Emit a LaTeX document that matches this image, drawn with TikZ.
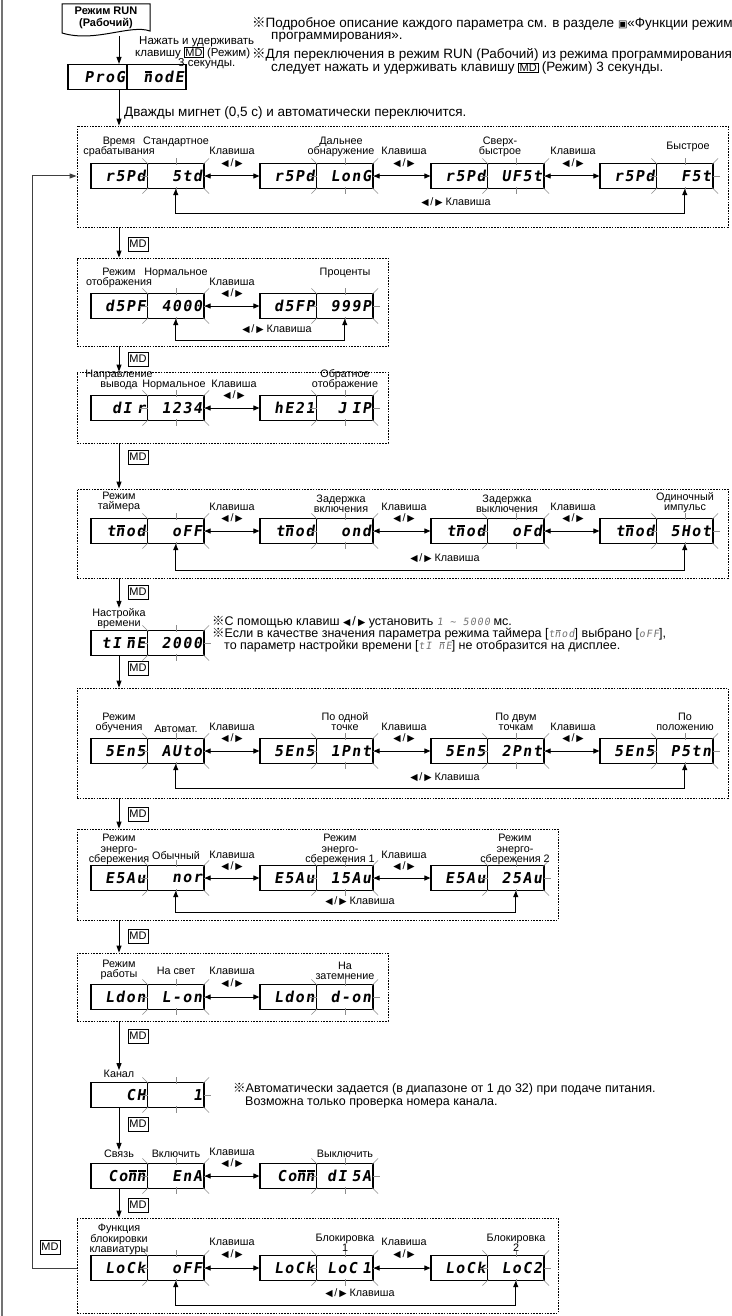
\documentclass[tikz,border=0pt]{standalone}
\usepackage{fontspec}
\setmainfont{Liberation Sans}
\newfontfamily\segfont{DejaVu Sans Mono}[FakeSlant=0.15,LetterSpace=10]
\newfontfamily\symfont{DejaVu Sans}
\newfontfamily\refmark{Noto Sans CJK JP}
\usetikzlibrary{arrows.meta}
\setlength\fboxsep{0.8pt}
\setlength\fboxrule{0.5pt}
\newcommand\segstyle{\segfont\bfseries\fontsize{15}{15}\selectfont}
\newcommand\labstyle{\fontsize{10.8}{10.5}\selectfont}
\newcommand\txtstyle{\fontsize{13.5}{14}\selectfont}
\newcommand\notestyle{\fontsize{12.5}{13}\selectfont}
\newcommand\holdstyle{\fontsize{11.5}{12}\selectfont}
\newcommand\mdstyle{\fontsize{11}{11}\selectfont}
\newcommand\kk{{\symfont\fontsize{9.5}{9.5}\selectfont ◀}\,/\,{\symfont\fontsize{9.5}{9.5}\selectfont ▶}}
\newcommand\refm{{\refmark ※}}
\newcommand\mdin{\fbox{\fontsize{11}{11}\selectfont MD}}
\newcommand\nbar{\makebox[0pt][l]{\hspace{0.1em}\raisebox{0.64em}{\rule{0.5em}{0.1em}}}n}
\newcommand\segin[1]{{\segfont\fontsize{10}{10}\selectfont\color{black!55}#1}}
\tikzset{
 cellL/.style={draw, line width=1.2pt, minimum width=56.5pt, minimum height=25pt, inner sep=0pt, text width=53pt, align=right, font=\segstyle},
 cellR/.style={cellL},
 cellP/.style={cellL, minimum width=59pt, text width=55pt},
 tick/.style={black!45, line width=0.5pt},
 grp/.style={draw, line width=0.8pt, dash pattern=on 1.6pt off 1.2pt, inner sep=0pt},
 lab/.style={font=\labstyle, align=center, inner sep=0pt},
 dbl/.style={line width=1pt, {Triangle[length=6pt,width=5pt]}-{Triangle[length=6pt,width=5pt]}},
 arr/.style={line width=1pt, -{Triangle[length=7pt,width=5pt]}},
 md/.style={draw, line width=0.6pt, font=\mdstyle, inner sep=1.5pt, minimum width=20pt, minimum height=14pt},
 txt/.style={font=\txtstyle, inner sep=0pt},
 note/.style={font=\notestyle, inner sep=0pt},
 hold/.style={font=\holdstyle, inner sep=0pt},
 back/.style={line width=1pt, draw=black!75, -{Triangle[length=7pt,width=5pt]}},
}
\newcommand\blinkticks[1]{%
 \draw[tick] ([shift={(1.5,1.5)}]#1.north west) -- ++(-6,-6);
 \draw[tick] ([shift={(-1.5,1.5)}]#1.north east) -- ++(6,-6);
 \draw[tick] ([shift={(1.5,-1.5)}]#1.south west) -- ++(-6,6);
 \draw[tick] ([shift={(-1.5,-1.5)}]#1.south east) -- ++(6,6);
 \draw[tick] ([shift={(0,2)}]#1.north) -- ++(0,-7);
 \draw[tick] ([shift={(0,-2)}]#1.south) -- ++(0,7);
 \draw[tick] ([shift={(-7,0)}]#1.west) -- ++(8,0);
 \draw[tick] ([shift={(-1,0)}]#1.east) -- ++(7,0);
}
\newcommand\dpair[5]{%
 \node[cellL] (#1-l) at ({#2+28.25},{#3}) {#4};
 \node[cellR] (#1-r) at ({#2+84.75},{#3}) {#5};
 \blinkticks{#1-r}}
\begin{document}
\begin{tikzpicture}[x=1pt,y=-1pt]
\useasboundingbox (0,0) rectangle (731,1316);
\fill[white] (0,0) rectangle (731,1316);
\draw[line width=2pt, black!55] (2,0) -- (2,1316);
\coordinate (ax) at (119,0);
\coordinate (bx) at (32,0);

% ---------- header ----------
\draw[line width=1pt, fill=white] (62,4) -- (150,4) -- (150,31) .. controls (130,24) and (95,43) .. (62,33) -- cycle;
\node[font=\bfseries\fontsize{11}{12}\selectfont, align=center, inner sep=0pt] (run) at (106,18) {Режим RUN\\(Рабочий)};
\coordinate (runb) at (119,36);
\node[hold, anchor=west] (hold1) at (139,42) {Нажать и удерживать};
\node[hold, anchor=west] (hold2) at (135,53) {клавишу \mdin\ (Режим)};
\node[hold, anchor=west] (hold3) at (178,64) {3 секунды.};
\node[cellP] (pg-l) at (97.5,77) {ProG};
\node[cellP] (pg-r) at (156.5,77) {\nbar odE};
\draw[arr] (runb) -- (pg-l.north -| ax);
\node[txt, anchor=west] (n1) at (252,24) {\refm Подробное описание каждого параметра см. в разделе {\symfont\fontsize{10}{10}\selectfont▣}«Функции режим};
\node[txt, anchor=west] (n2) at (271,37) {программирования».};
\node[txt, anchor=west] (n3) at (252,55) {\refm Для переключения в режим RUN (Рабочий) из режима программирования};
\node[txt, anchor=west] (n4) at (271,68) {следует нажать и удерживать клавишу \mdin\ (Режим) 3 секунды.};
\node[txt, anchor=west] (twice) at (124,113) {Дважды мигнет (0,5 с) и автоматически переключится.};

% ---------- group 1 ----------
\node[grp, minimum width=651pt, minimum height=101pt] (g1) at (402.5,176.5) {};
\draw[arr] (pg-l.south -| ax) -- (g1.north -| ax);
\dpair{a1}{91}{176}{r5Pd}{5td}
\dpair{a2}{260}{176}{r5Pd}{LonG}
\dpair{a3}{431}{176}{r5Pd}{UF5t}
\dpair{a4}{600}{176}{r5Pd}{F5t}
\draw[dbl] (a1-r.east) -- (a2-l.west);
\draw[dbl] (a2-r.east) -- (a3-l.west);
\draw[dbl] (a3-r.east) -- (a4-l.west);
\draw[dbl] (a1-r.south) -- ++(0,24) -| (a4-r.south);
\node[lab, anchor=south] (a1t) at (119,157) {Время\\срабатывания};
\node[lab, anchor=south] (a1v) at (176,147) {Стандартное};
\node[lab, anchor=south] (a2v) at (341,157) {Дальнее\\обнаружение};
\node[lab, anchor=south] (a3v) at (500,157) {Сверх-\\быстрое};
\node[lab, anchor=south] (a4v) at (688,152) {Быстрое};
\node[lab] (ak1) at (232,151) {Клавиша};
\node[lab] (as1) at (232,163) {\kk};
\node[lab] (ak2) at (404,151) {Клавиша};
\node[lab] (as2) at (404,163) {\kk};
\node[lab] (ak3) at (573,151) {Клавиша};
\node[lab] (as3) at (573,163) {\kk};
\node[lab] (ab) at (456,202) {\kk\ Клавиша};

% ---------- group 2 ----------
\node[grp, minimum width=311pt, minimum height=88pt] (g2) at (232.5,302) {};
\draw[arr] (g1.south -| ax) -- (g2.north -| ax);
\node[md] (m1) at (138,244) {MD};
\dpair{b1}{91}{306}{d5PF}{4000}
\dpair{b2}{260}{306}{d5FP}{999P}
\draw[dbl] (b1-r.east) -- (b2-l.west);
\draw[dbl] (b1-r.south) -- ++(0,21) -| (b2-r.south);
\node[lab, anchor=south] (b1t) at (119,288) {Режим\\отображения};
\node[lab, anchor=south] (b1v) at (176,278) {Нормальное};
\node[lab, anchor=south] (b2v) at (345,278) {Проценты};
\node[lab] (bk1) at (232,282) {Клавиша};
\node[lab] (bs1) at (232,293) {\kk};
\node[lab] (bb) at (277,329) {\kk\ Клавиша};

% ---------- group 3 ----------
\node[grp, minimum width=311pt, minimum height=71pt] (g3) at (232.5,407.5) {};
\draw[arr] (g2.south -| ax) -- (g3.north -| ax);
\node[md] (m2) at (138,359) {MD};
\dpair{c1}{91}{408}{dI r}{1234}
\dpair{c2}{260}{408}{hE21}{J IP}
\draw[dbl] (c1-r.east) -- (c2-l.west);
\node[lab, anchor=south] (c1t) at (119,390) {Направление\\вывода};
\node[lab, anchor=south] (c1v) at (174,390) {Нормальное};
\node[lab, anchor=south] (c2v) at (345,390) {Обратное\\отображение};
\node[lab] (ck1) at (234,384) {Клавиша};
\node[lab] (cs1) at (234,395) {\kk};

% ---------- group 4 ----------
\node[grp, minimum width=651pt, minimum height=89pt] (g4) at (402.5,533.5) {};
\draw[arr] (g3.south -| ax) -- (g4.north -| ax);
\node[md] (m3) at (138,457) {MD};
\dpair{d1}{91}{531}{t\nbar od}{oFF}
\dpair{d2}{260}{531}{t\nbar od}{ond}
\dpair{d3}{431}{531}{t\nbar od}{oFd}
\dpair{d4}{600}{531}{t\nbar od}{5Hot}
\draw[dbl] (d1-r.east) -- (d2-l.west);
\draw[dbl] (d2-r.east) -- (d3-l.west);
\draw[dbl] (d3-r.east) -- (d4-l.west);
\draw[dbl] (d1-r.south) -- ++(0,26) -| (d4-r.south);
\node[lab, anchor=south] (d1t) at (119,512) {Режим\\таймера};
\node[lab, anchor=south] (d2v) at (341,513) {Задержка\\включения};
\node[lab, anchor=south] (d3v) at (507,513) {Задержка\\выключения};
\node[lab, anchor=south] (d4v) at (685,513) {Одиночный\\импульс};
\node[lab] (dk1) at (232,507) {Клавиша};
\node[lab] (ds1) at (232,518) {\kk};
\node[lab] (dk2) at (404,507) {Клавиша};
\node[lab] (ds2) at (404,518) {\kk};
\node[lab] (dk3) at (573,507) {Клавиша};
\node[lab] (ds3) at (573,518) {\kk};
\node[lab] (db) at (445,558) {\kk\ Клавиша};

% ---------- time ----------
\node[lab, anchor=south] (e1t) at (119,629) {Настройка\\времени};
\draw[arr] (g4.south -| ax) -- (e1t.north -| ax);
\node[md] (m4) at (138,592) {MD};
\dpair{e1}{91}{643}{tI \nbar E}{2000}
\node[note, anchor=west] (en1) at (212,622) {\refm С помощью клавиш \kk\ установить \segin{1 \char`~\ 5000} мс.};
\node[note, anchor=west] (en2) at (212,634) {\refm Если в качестве значения параметра режима таймера [\segin{t\nbar od}] выбрано [\segin{oFF}],};
\node[note, anchor=west] (en3) at (224,646) {то параметр настройки времени [\segin{tI \nbar E}] не отобразится на дисплее.};

% ---------- group 5 ----------
\node[grp, minimum width=651pt, minimum height=110pt] (g5) at (402.5,743) {};
\draw[arr] (e1-l.south -| ax) -- (g5.north -| ax);
\node[md] (m5) at (138,668) {MD};
\dpair{f1}{91}{751}{5En5}{AUto}
\dpair{f2}{260}{751}{5En5}{1Pnt}
\dpair{f3}{431}{751}{5En5}{2Pnt}
\dpair{f4}{600}{751}{5En5}{P5tn}
\draw[dbl] (f1-r.east) -- (f2-l.west);
\draw[dbl] (f2-r.east) -- (f3-l.west);
\draw[dbl] (f3-r.east) -- (f4-l.west);
\draw[dbl] (f1-r.south) -- ++(0,24) -| (f4-r.south);
\node[lab, anchor=south] (f1t) at (119,733) {Режим\\обучения};
\node[lab, anchor=south] (f1v) at (176,733) {Автомат.};
\node[lab, anchor=south] (f2v) at (345,731) {По одной\\точке};
\node[lab, anchor=south] (f3v) at (516,731) {По двум\\точкам};
\node[lab, anchor=south] (f4v) at (685,731) {По\\положению};
\node[lab] (fk1) at (232,727) {Клавиша};
\node[lab] (fs1) at (232,738) {\kk};
\node[lab] (fk2) at (404,727) {Клавиша};
\node[lab] (fs2) at (404,738) {\kk};
\node[lab] (fk3) at (573,727) {Клавиша};
\node[lab] (fs3) at (573,738) {\kk};
\node[lab] (fb) at (445,777) {\kk\ Клавиша};

% ---------- group 6 ----------
\node[grp, minimum width=481pt, minimum height=91pt] (g6) at (317.5,874.5) {};
\draw[arr] (g5.south -| ax) -- (g6.north -| ax);
\node[md] (m6) at (138,814) {MD};
\dpair{h1}{91}{878}{E5Au}{nor}
\dpair{h2}{260}{878}{E5Au}{15Au}
\dpair{h3}{431}{878}{E5Au}{25Au}
\draw[dbl] (h1-r.east) -- (h2-l.west);
\draw[dbl] (h2-r.east) -- (h3-l.west);
\draw[dbl] (h1-r.south) -- ++(0,21) -| (h3-r.south);
\node[lab, anchor=south] (h1t) at (119,865) {Режим\\энерго-\\сбережения};
\node[lab, anchor=south] (h1v) at (176,860) {Обычный};
\node[lab, anchor=south] (h2v) at (340,865) {Режим\\энерго-\\сбережения 1};
\node[lab, anchor=south] (h3v) at (515,865) {Режим\\энерго-\\сбережения 2};
\node[lab] (hk1) at (232,855) {Клавиша};
\node[lab] (hs1) at (232,866) {\kk};
\node[lab] (hk2) at (404,855) {Клавиша};
\node[lab] (hs2) at (404,866) {\kk};
\node[lab] (hb) at (360,901) {\kk\ Клавиша};

% ---------- group 7 ----------
\node[grp, minimum width=311pt, minimum height=68pt] (g7) at (232.5,987) {};
\draw[arr] (g6.south -| ax) -- (g7.north -| ax);
\node[md] (m7) at (138,936) {MD};
\dpair{k1}{91}{997}{Ldon}{L-on}
\dpair{k2}{260}{997}{Ldon}{d-on}
\draw[dbl] (k1-r.east) -- (k2-l.west);
\node[lab, anchor=south] (k1t) at (119,980) {Режим\\работы};
\node[lab, anchor=south] (k1v) at (176,975) {На свет};
\node[lab, anchor=south] (k2v) at (345,980) {На\\затемнение};
\node[lab] (kk1) at (232,971) {Клавиша};
\node[lab] (ks1) at (232,983) {\kk};

% ---------- channel ----------
\node[lab, anchor=south] (q1t) at (119,1078) {Канал};
\draw[arr] (g7.south -| ax) -- (q1t.north -| ax);
\node[md] (m8) at (138,1036) {MD};
\dpair{q1}{91}{1095}{CH}{1}
\node[note, anchor=west] (qn1) at (233,1089) {\refm Автоматически задается (в диапазоне от 1 до 32) при подаче питания.};
\node[note, anchor=west] (qn2) at (245,1102) {Возможна только проверка номера канала.};

% ---------- communication ----------
\node[lab, anchor=south] (j1t) at (119,1158) {Связь};
\draw[arr] (q1-l.south -| ax) -- (j1t.north -| ax);
\node[md] (m9) at (138,1124) {MD};
\dpair{j1}{91}{1176}{Co\nbar\nbar}{EnA}
\dpair{j2}{260}{1176}{Co\nbar\nbar}{dI 5A}
\draw[dbl] (j1-r.east) -- (j2-l.west);
\node[lab, anchor=south] (j1v) at (176,1158) {Включить};
\node[lab, anchor=south] (j2v) at (345,1158) {Выключить};
\node[lab] (jk1) at (232,1152) {Клавиша};
\node[lab] (js1) at (232,1163) {\kk};

% ---------- group 9 ----------
\node[grp, minimum width=481pt, minimum height=95pt] (g9) at (317.5,1265.5) {};
\draw[arr] (j1-l.south -| ax) -- (g9.north -| ax);
\node[md] (m10) at (138,1205) {MD};
\dpair{l1}{91}{1268}{LoCk}{oFF}
\dpair{l2}{260}{1268}{LoCk}{LoC 1}
\dpair{l3}{431}{1268}{LoCk}{LoC2}
\draw[dbl] (l1-r.east) -- (l2-l.west);
\draw[dbl] (l2-r.east) -- (l3-l.west);
\draw[dbl] (l1-r.south) -- ++(0,24) -| (l3-r.south);
\node[lab, anchor=south] (l1t) at (119,1255) {Функция\\блокировки\\клавиатуры};
\node[lab, anchor=south] (l2v) at (345,1252) {Блокировка\\1};
\node[lab, anchor=south] (l3v) at (516,1252) {Блокировка\\2};
\node[lab] (lk1) at (232,1242) {Клавиша};
\node[lab] (ls1) at (232,1254) {\kk};
\node[lab] (lk2) at (404,1242) {Клавиша};
\node[lab] (ls2) at (404,1254) {\kk};
\node[lab] (lb) at (360,1293) {\kk\ Клавиша};

% ---------- return loop ----------
\draw[back] (g9.west |- l1-l.center) -| (bx |- a1-l.center) -- (g1.west |- a1-l.center);
\node[md] (m11) at (50,1247) {MD};
\end{tikzpicture}
\end{document}
